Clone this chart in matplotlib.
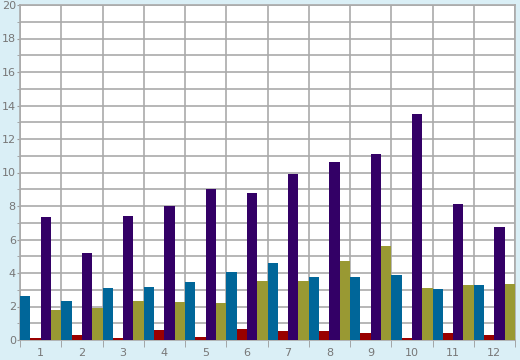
import matplotlib
matplotlib.use("Agg")
import matplotlib.pyplot as plt
import numpy as np

categories = ["1", "2", "3", "4", "5", "6", "7", "8", "9", "10", "11", "12"]
teal = [2.63, 2.33, 3.10, 3.16, 3.46, 4.06, 4.60, 3.76, 3.76, 3.88, 3.04, 3.28]
red = [0.14, 0.30, 0.14, 0.62, 0.18, 0.66, 0.54, 0.54, 0.42, 0.12, 0.42, 0.30]
purple = [7.34, 5.19, 7.40, 8.00, 9.00, 8.78, 9.91, 10.63, 11.10, 13.49, 8.12, 6.75]
olive = [1.81, 1.93, 2.33, 2.29, 2.21, 3.52, 3.52, 4.72, 5.61, 3.10, 3.28, 3.34]

series = [(teal, "#006699"), (red, "#990000"), (purple, "#330066"), (olive, "#999933")]

fig = plt.figure(figsize=(5.2, 3.6), dpi=100)
fig.patch.set_facecolor("#daeff6")
ax = fig.add_axes([20 / 520, 20 / 360, 495 / 520, 335 / 360])
ax.set_facecolor("white")

x = np.arange(len(categories))
w = 0.25
for k, (vals, c) in enumerate(series):
    ax.bar(x + (k - 1.5) * w, vals, width=w, color=c, zorder=3, linewidth=0)

ax.set_xlim(-0.5, len(categories) - 0.5)
ax.set_ylim(0, 20)

ax.set_xticks(x)
ax.set_xticklabels(categories)
ax.set_xticks(np.arange(len(categories) + 1) - 0.5, minor=True)
ax.tick_params(axis="x", which="major", length=0, pad=6)
ax.tick_params(axis="x", which="minor", length=5, color="#999999")

ax.set_yticks(np.arange(0, 21, 2))
ax.set_yticks(np.arange(0, 21, 1), minor=True)
ax.tick_params(axis="y", which="both", length=2, color="#999999", pad=1)

ax.tick_params(labelsize=8, labelcolor="#777777")
ax.grid(True, which="minor", color="#aaaaaa", lw=1.2, zorder=0)
ax.grid(True, which="major", axis="y", color="#aaaaaa", lw=1.2, zorder=0)
for s in ax.spines.values():
    s.set_color("#aaaaaa")
    s.set_linewidth(1.2)

fig.savefig("out.png", dpi=100, facecolor=fig.get_facecolor())
